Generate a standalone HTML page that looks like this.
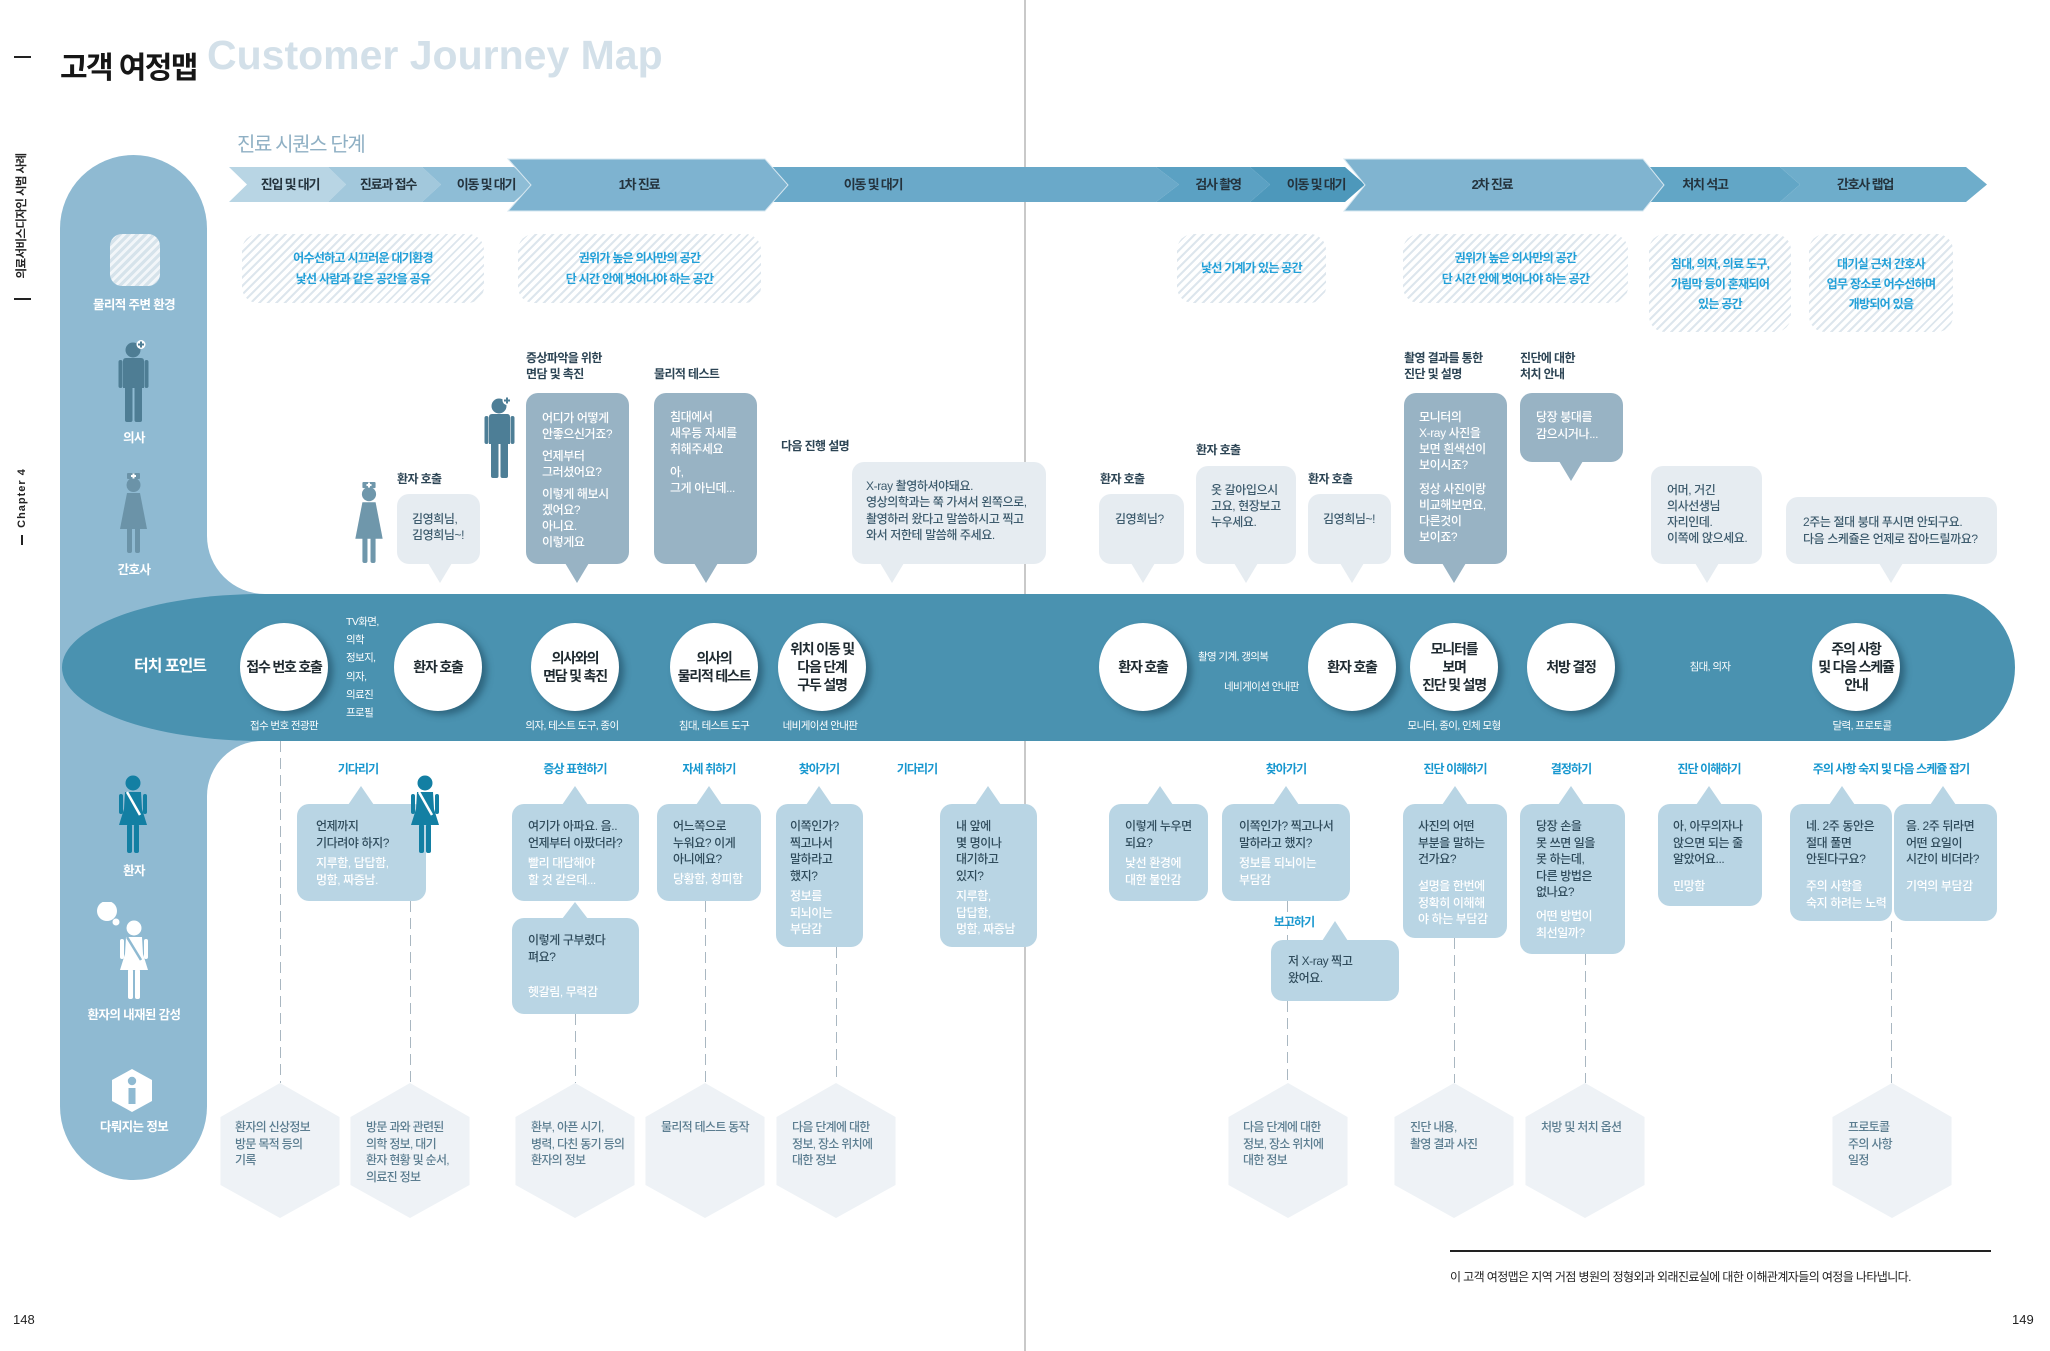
<!DOCTYPE html>
<html lang="ko"><head><meta charset="utf-8"><title>고객 여정맵</title>
<style>
*{box-sizing:border-box}
body{margin:0;width:2050px;height:1351px;position:relative;overflow:hidden;background:#fff;font-family:"Liberation Sans","Noto Sans CJK KR",sans-serif;}
.a{position:absolute}
.tx{position:absolute;white-space:nowrap;font-size:12px;letter-spacing:-0.4px;line-height:16.5px;font-weight:500}
.dk{color:#2f4b5b}
.wh{color:#fff}
.lt{color:#3d5b6d}
.lb{position:absolute;white-space:nowrap;font-size:12px;letter-spacing:-0.6px;line-height:16px;font-weight:bold;color:#2c4454}
.cat{position:absolute;width:260px;text-align:center;white-space:nowrap;font-size:12px;letter-spacing:-0.9px;line-height:16px;font-weight:bold;color:#1797cf;top:761px}
.hatch{position:absolute;border-radius:16px;background:repeating-linear-gradient(135deg,#dde6ed 0 2px,#fff 2px 6px);color:#22a0d8;font-weight:bold;font-size:12px;letter-spacing:-0.7px;text-align:center;white-space:nowrap}
.circ{position:absolute;top:623px;width:88px;height:88px;border-radius:50%;background:#fff;box-shadow:5px 4px 7px rgba(20,60,80,0.5);display:flex;align-items:center;justify-content:center;text-align:center;font-size:14px;font-weight:bold;letter-spacing:-1.2px;line-height:18px;color:#1f2a30}
.tp{position:absolute;white-space:nowrap;font-size:10.5px;letter-spacing:-0.6px;line-height:14px;color:#fff}
.tpc{position:absolute;width:200px;text-align:center;white-space:nowrap;font-size:10.5px;letter-spacing:-0.6px;line-height:14px;color:#fff;top:719px}
.pl{position:absolute;width:160px;left:54px;text-align:center;white-space:nowrap;font-size:12.5px;letter-spacing:-0.6px;line-height:16px;font-weight:bold;color:#fff}
.bar{position:absolute;width:200px;text-align:center;white-space:nowrap;font-size:13px;letter-spacing:-1.2px;line-height:16px;font-weight:bold;color:#24333d;top:177px}
.hx{position:absolute;white-space:nowrap;font-size:12px;letter-spacing:-0.7px;line-height:16.5px;color:#5b7d90;top:1119px;font-weight:500}
</style></head>
<body>

<!-- page divider -->
<div class="a" style="left:1024px;top:0;width:1.5px;height:1351px;background:#c9c9c9"></div>

<!-- left marks -->
<div class="a" style="left:14px;top:56px;width:17px;height:1.5px;background:#222"></div>
<div class="a" style="left:14px;top:298px;width:17px;height:1.5px;background:#222"></div>
<div class="a" style="left:21px;top:535px;width:1.5px;height:10px;background:#222"></div>
<div class="a" style="left:-49px;top:207px;width:142px;text-align:center;font-size:11.5px;font-weight:bold;letter-spacing:-0.6px;line-height:18px;color:#222;transform:rotate(-90deg);white-space:nowrap">의료서비스디자인 시범 사례</div>
<div class="a" style="left:-28px;top:489px;width:100px;text-align:center;font-size:11px;font-weight:bold;letter-spacing:1px;line-height:18px;color:#222;transform:rotate(-90deg);white-space:nowrap">Chapter 4</div>

<!-- titles -->
<div class="a" style="left:60px;top:50px;font-size:30px;font-weight:bold;letter-spacing:-1.6px;line-height:38px;color:#161616;white-space:nowrap">고객 여정맵</div>
<div class="a" style="left:207px;top:35px;font-size:41px;font-weight:bold;line-height:41px;color:#d3e0e9;white-space:nowrap">Customer Journey Map</div>
<div class="a" style="left:237px;top:133px;font-size:20px;letter-spacing:-1.4px;line-height:24px;color:#8fb0c4;white-space:nowrap">진료 시퀀스 단계</div>

<!-- left panel + band -->
<div class="a" style="left:60px;top:155px;width:147px;height:1025px;border-radius:73.5px;background:#8fbad2"></div>
<div class="a" style="left:200px;top:480px;width:90px;height:340px;background:#8fbad2"></div>
<div class="a" style="left:207px;top:380px;width:120px;height:214px;border-bottom-left-radius:58px;background:#fff"></div>
<div class="a" style="left:207px;top:741px;width:120px;height:150px;border-top-left-radius:55px;background:#fff"></div>
<div class="a" style="left:62px;top:594px;width:1953px;height:147px;background:#4a92b0;border-radius:200px 70px 70px 200px / 73.5px 73.5px 73.5px 73.5px"></div>

<!-- shapes layer -->
<svg class="a" style="left:0;top:0" width="2050" height="1351" viewBox="0 0 2050 1351">
  <polygon points="229,167 328,167 346,184.5 328,202 229,202 247,184.5" fill="#b8d5e4"/>
  <polygon points="328,167 422,167 441,184.5 422,202 328,202 346,184.5" fill="#a2c8dc"/>
  <polygon points="422,167 514,167 533,184.5 514,202 422,202 441,184.5" fill="#8ebdd6"/>
  <polygon points="765,167 1156,167 1179,184.5 1156,202 765,202 784,184.5" fill="#6aa9c9"/>
  <polygon points="1156,167 1250,167 1270,184.5 1250,202 1156,202 1179,184.5" fill="#5ba1c3"/>
  <polygon points="1250,167 1345,167 1365,184.5 1345,202 1250,202 1270,184.5" fill="#4d98bb"/>
  <polygon points="1643,167 1780,167 1800,184.5 1780,202 1643,202 1662,184.5" fill="#62a6c6"/>
  <polygon points="1780,167 1966,167 1987,184.5 1966,202 1780,202 1800,184.5" fill="#6eadcb"/>
  <polygon points="508,159 765,159 788,185 765,211 508,211 531,185" fill="#7eb3d0" stroke="#d6e7f0" stroke-width="1"/>
  <polygon points="1344,159 1643,159 1664,185 1643,211 1344,211 1365,185" fill="#80b4d0" stroke="#d6e7f0" stroke-width="1"/>

  <g stroke="#a9b7c1" stroke-width="1" stroke-dasharray="11 6" fill="none">
    <line x1="280.5" y1="741" x2="280.5" y2="1083"/>
    <line x1="410.5" y1="901" x2="410.5" y2="1083"/>
    <line x1="575.5" y1="1014" x2="575.5" y2="1083"/>
    <line x1="705.5" y1="901" x2="705.5" y2="1083"/>
    <line x1="836.5" y1="947" x2="836.5" y2="1083"/>
    <line x1="1287.5" y1="901" x2="1287.5" y2="940"/>
    <line x1="1287.5" y1="1001" x2="1287.5" y2="1083"/>
    <line x1="1454.5" y1="938" x2="1454.5" y2="1083"/>
    <line x1="1585.5" y1="954" x2="1585.5" y2="1083"/>
    <line x1="1891.5" y1="921" x2="1891.5" y2="1083"/>
  </g>

  <g fill="#eef2f6">
    <polygon points="280,1083 339.5,1117 339.5,1185 280,1218 220.5,1185 220.5,1117"/>
    <polygon points="410,1083 469.5,1117 469.5,1185 410,1218 350.5,1185 350.5,1117"/>
    <polygon points="575,1083 634.5,1117 634.5,1185 575,1218 515.5,1185 515.5,1117"/>
    <polygon points="705,1083 764.5,1117 764.5,1185 705,1218 645.5,1185 645.5,1117"/>
    <polygon points="836,1083 895.5,1117 895.5,1185 836,1218 776.5,1185 776.5,1117"/>
    <polygon points="1288,1083 1347.5,1117 1347.5,1185 1288,1218 1228.5,1185 1228.5,1117"/>
    <polygon points="1454,1083 1513.5,1117 1513.5,1185 1454,1218 1394.5,1185 1394.5,1117"/>
    <polygon points="1585,1083 1644.5,1117 1644.5,1185 1585,1218 1525.5,1185 1525.5,1117"/>
    <polygon points="1892,1083 1951.5,1117 1951.5,1185 1892,1218 1832.5,1185 1832.5,1117"/>
  </g>

  <g fill="#e6ecf1">
    <rect x="397" y="494" width="83" height="70" rx="12"/><polygon points="428,563 452,563 440,583"/>
    <rect x="852" y="462" width="194" height="102" rx="12"/><polygon points="880,563 904,563 892,583"/>
    <rect x="1099" y="494" width="85" height="70" rx="12"/><polygon points="1131,563 1155,563 1143,583"/>
    <rect x="1196" y="466" width="100" height="98" rx="12"/><polygon points="1234,563 1258,563 1246,583"/>
    <rect x="1308" y="494" width="83" height="70" rx="12"/><polygon points="1340,563 1364,563 1352,583"/>
    <rect x="1651" y="466" width="111" height="98" rx="12"/><polygon points="1695,563 1719,563 1707,583"/>
    <rect x="1786" y="497" width="211" height="67" rx="12"/><polygon points="1879,563 1903,563 1891,583"/>
  </g>
  <g fill="#98b3c4">
    <rect x="526" y="393" width="103" height="171" rx="12"/><polygon points="565,563 589,563 577,583"/>
    <rect x="654" y="393" width="103" height="171" rx="12"/><polygon points="694,563 718,563 706,583"/>
    <rect x="1404" y="393" width="103" height="171" rx="12"/><polygon points="1442,563 1466,563 1454,583"/>
    <rect x="1520" y="393" width="103" height="69" rx="12"/><polygon points="1559,461 1583,461 1571,481"/>
  </g>

  <g fill="#b9d5e4">
    <rect x="297" y="804" width="129" height="97" rx="12"/><polygon points="348,805 374,805 361,786"/>
    <rect x="512" y="804" width="127" height="97" rx="12"/><polygon points="562,805 588,805 575,786"/>
    <rect x="512" y="918" width="127" height="96" rx="12"/><polygon points="562,919 588,919 575,902"/>
    <rect x="657" y="804" width="104" height="97" rx="12"/><polygon points="696,805 722,805 709,786"/>
    <rect x="776" y="804" width="87" height="143" rx="12"/><polygon points="806,805 832,805 819,786"/>
    <rect x="940" y="804" width="97" height="143" rx="12"/><polygon points="975,805 1001,805 988,786"/>
    <rect x="1109" y="804" width="99" height="97" rx="12"/><polygon points="1147,805 1173,805 1160,786"/>
    <rect x="1222" y="804" width="128" height="97" rx="12"/><polygon points="1273,805 1299,805 1286,786"/>
    <rect x="1271" y="940" width="128" height="61" rx="12"/><polygon points="1322,941 1348,941 1335,921"/>
    <rect x="1403" y="804" width="104" height="134" rx="12"/><polygon points="1442,805 1468,805 1455,786"/>
    <rect x="1520" y="804" width="105" height="150" rx="12"/><polygon points="1558,805 1584,805 1571,786"/>
    <rect x="1658" y="804" width="104" height="102" rx="12"/><polygon points="1696,805 1722,805 1709,786"/>
    <rect x="1790" y="804" width="102" height="117" rx="12"/><polygon points="1829,805 1855,805 1842,786"/>
    <rect x="1894" y="804" width="103" height="117" rx="12"/><polygon points="1930,805 1956,805 1943,786"/>
  </g>

  <rect x="1450" y="1250" width="541" height="2" fill="#222"/>
</svg>

<!-- bar labels -->
<div class="bar" style="left:190px">진입 및 대기</div>
<div class="bar" style="left:288px">진료과 접수</div>
<div class="bar" style="left:386px">이동 및 대기</div>
<div class="bar" style="left:539px">1차 진료</div>
<div class="bar" style="left:773px">이동 및 대기</div>
<div class="bar" style="left:1118px">검사 촬영</div>
<div class="bar" style="left:1216px">이동 및 대기</div>
<div class="bar" style="left:1392px">2차 진료</div>
<div class="bar" style="left:1605px">처치 석고</div>
<div class="bar" style="left:1765px">간호사 랩업</div>

<!-- hatched cards -->
<div class="hatch" style="left:242px;top:234px;width:242px;height:69px;padding-top:14px;line-height:21px">어수선하고 시끄러운 대기환경<br>낯선 사람과 같은 공간을 공유</div>
<div class="hatch" style="left:518px;top:234px;width:243px;height:69px;padding-top:14px;line-height:21px">권위가 높은 의사만의 공간<br>단 시간 안에 벗어나야 하는 공간</div>
<div class="hatch" style="left:1177px;top:234px;width:149px;height:69px;padding-top:24px;line-height:21px">낯선 기계가 있는 공간</div>
<div class="hatch" style="left:1403px;top:234px;width:225px;height:69px;padding-top:14px;line-height:21px">권위가 높은 의사만의 공간<br>단 시간 안에 벗어나야 하는 공간</div>
<div class="hatch" style="left:1649px;top:234px;width:142px;height:98px;padding-top:20px;line-height:20px">침대, 의자, 의료 도구,<br>가림막 등이 혼재되어<br>있는 공간</div>
<div class="hatch" style="left:1809px;top:234px;width:144px;height:98px;padding-top:20px;line-height:20px">대기실 근처 간호사<br>업무 장소로 어수선하며<br>개방되어 있음</div>

<!-- panel icons -->
<div class="a" style="left:110px;top:234px;width:50px;height:52px;border-radius:12px;background:repeating-linear-gradient(135deg,#d6e3eb 0 3px,#f2f6f9 3px 6px)"></div>
<div class="pl" style="top:297px">물리적 주변 환경</div>

<svg class="a" style="left:118px;top:340px" width="32" height="82" viewBox="0 0 32 82">
 <g fill="#4e7d94"><circle cx="15" cy="10" r="7.5"/><path d="M5 21 Q5 18 8 18 L23 18 Q26 18 26 21 L26 48 L5 48 Z"/><rect x="0.5" y="20" width="4" height="28" rx="2"/><rect x="26.5" y="20" width="4" height="28" rx="2"/><rect x="7" y="46" width="7.5" height="36" rx="2"/><rect x="16.5" y="46" width="7.5" height="36" rx="2"/></g>
 <circle cx="23" cy="4.5" r="4.5" fill="#fff"/><rect x="22" y="1.5" width="2" height="6" fill="#4e7d94"/><rect x="20" y="3.5" width="6" height="2" fill="#4e7d94"/>
</svg>
<div class="pl" style="top:430px">의사</div>

<svg class="a" style="left:118px;top:473px" width="32" height="80" viewBox="0 0 32 80">
 <g fill="#6b93a8"><rect x="9" y="0" width="13" height="6" rx="1"/><circle cx="15.5" cy="12" r="7"/><path d="M9 20 L22 20 L29 56 L2 56 Z"/><rect x="9" y="54" width="5" height="26" rx="2"/><rect x="17" y="54" width="5" height="26" rx="2"/></g>
 <rect x="14.5" y="0.5" width="2" height="5" fill="#fff"/><rect x="13" y="2" width="5" height="2" fill="#fff"/>
</svg>
<div class="pl" style="top:562px">간호사</div>

<svg class="a" style="left:116px;top:775px" width="34" height="78" viewBox="0 0 34 78">
 <g fill="#137fa3"><circle cx="17" cy="8" r="7.5"/><path d="M9 17 L25 17 L26 34 L31 50 L3 50 L8 34 Z"/><rect x="3" y="19" width="4" height="20" rx="2"/><rect x="27" y="19" width="4" height="20" rx="2"/><rect x="11" y="49" width="5" height="29" rx="2"/><rect x="18" y="49" width="5" height="29" rx="2"/></g>
 <line x1="11" y1="17" x2="24" y2="40" stroke="#fff" stroke-width="2.5"/>
</svg>
<div class="pl" style="top:863px">환자</div>

<svg class="a" style="left:94px;top:902px" width="58" height="97" viewBox="0 0 58 97">
 <g fill="#fff"><circle cx="13" cy="9" r="10"/><circle cx="22" cy="20" r="3.5"/><circle cx="40" cy="26" r="7.5"/><path d="M32 35 L48 35 L49 52 L54 68 L26 68 L31 52 Z"/><rect x="26" y="37" width="4" height="20" rx="2"/><rect x="50" y="37" width="4" height="20" rx="2"/><rect x="34" y="67" width="5" height="30" rx="2"/><rect x="41" y="67" width="5" height="30" rx="2"/></g>
 <line x1="33" y1="35" x2="47" y2="58" stroke="#8fbad2" stroke-width="2.5"/>
</svg>
<div class="pl" style="top:1007px">환자의 내재된 감성</div>

<svg class="a" style="left:112px;top:1069px" width="40" height="43" viewBox="0 0 40 43">
 <polygon points="20,0 40,11 40,32 20,43 0,32 0,11" fill="#fff"/>
 <circle cx="20" cy="12" r="4.2" fill="#8fbad2"/><rect x="16.5" y="19" width="7" height="16" fill="#8fbad2"/>
</svg>
<div class="pl" style="top:1119px">다뤄지는 정보</div>

<!-- staff figures -->
<svg class="a" style="left:353px;top:482px" width="33" height="81" viewBox="0 0 32 80">
 <g fill="#6f97ab"><rect x="9" y="0" width="13" height="6" rx="1"/><circle cx="15.5" cy="12" r="7"/><path d="M9 20 L22 20 L29 56 L2 56 Z"/><rect x="9" y="54" width="5" height="26" rx="2"/><rect x="17" y="54" width="5" height="26" rx="2"/></g>
 <rect x="14.5" y="0.5" width="2" height="5" fill="#fff"/><rect x="13" y="2" width="5" height="2" fill="#fff"/>
</svg>
<svg class="a" style="left:484px;top:396px" width="32" height="82" viewBox="0 0 32 82">
 <g fill="#4d7e96"><circle cx="15" cy="10" r="7.5"/><path d="M5 21 Q5 18 8 18 L23 18 Q26 18 26 21 L26 48 L5 48 Z"/><rect x="0.5" y="20" width="4" height="28" rx="2"/><rect x="26.5" y="20" width="4" height="28" rx="2"/><rect x="7" y="46" width="7.5" height="36" rx="2"/><rect x="16.5" y="46" width="7.5" height="36" rx="2"/></g>
 <circle cx="23" cy="4.5" r="4.5" fill="#fff"/><rect x="22" y="1.5" width="2" height="6" fill="#4d7e96"/><rect x="20" y="3.5" width="6" height="2" fill="#4d7e96"/>
</svg>

<!-- staff labels -->
<div class="lb" style="left:397px;top:471px">환자 호출</div>
<div class="lb" style="left:526px;top:350px">증상파악을 위한<br>면담 및 촉진</div>
<div class="lb" style="left:654px;top:366px">물리적 테스트</div>
<div class="lb" style="left:781px;top:438px">다음 진행 설명</div>
<div class="lb" style="left:1100px;top:471px">환자 호출</div>
<div class="lb" style="left:1196px;top:442px">환자 호출</div>
<div class="lb" style="left:1308px;top:471px">환자 호출</div>
<div class="lb" style="left:1404px;top:350px">촬영 결과를 통한<br>진단 및 설명</div>
<div class="lb" style="left:1520px;top:350px">진단에 대한<br>처치 안내</div>

<!-- staff bubble texts -->
<div class="tx lt" style="left:412px;top:511px;line-height:16px">김영희님,<br>김영희님~!</div>
<div class="tx wh" style="left:542px;top:410px;line-height:16px">어디가 어떻게<br>안좋으신거죠?</div>
<div class="tx wh" style="left:542px;top:448px;line-height:16px">언제부터<br>그러셨어요?</div>
<div class="tx wh" style="left:542px;top:486px;line-height:16px">이렇게 해보시<br>겠어요?<br>아니요.<br>이렇게요</div>
<div class="tx wh" style="left:670px;top:409px;line-height:16px">침대에서<br>새우등 자세를<br>취해주세요</div>
<div class="tx wh" style="left:670px;top:464px;line-height:16px">아,<br>그게 아닌데...</div>
<div class="tx lt" style="left:866px;top:478px;line-height:16.3px">X-ray 촬영하셔야돼요.<br>영상의학과는 쭉 가셔서 왼쪽으로,<br>촬영하러 왔다고 말씀하시고 찍고<br>와서 저한테 말씀해 주세요.</div>
<div class="tx lt" style="left:1115px;top:511px">김영희님?</div>
<div class="tx lt" style="left:1211px;top:482px;line-height:16px">옷 갈아입으시<br>고요, 현장보고<br>누우세요.</div>
<div class="tx lt" style="left:1323px;top:511px">김영희님~!</div>
<div class="tx wh" style="left:1419px;top:409px;line-height:16px">모니터의<br>X-ray 사진을<br>보면 흰색선이<br>보이시죠?</div>
<div class="tx wh" style="left:1419px;top:481px;line-height:16px">정상 사진이랑<br>비교해보면요,<br>다른것이<br>보이죠?</div>
<div class="tx wh" style="left:1536px;top:409px;line-height:17px">당장 붕대를<br>감으시거나...</div>
<div class="tx lt" style="left:1667px;top:482px;line-height:16px">어머, 거긴<br>의사선생님<br>자리인데.<br>이쪽에 앉으세요.</div>
<div class="tx lt" style="left:1803px;top:514px;line-height:17px">2주는 절대 붕대 푸시면 안되구요.<br>다음 스케쥴은 언제로 잡아드릴까요?</div>

<!-- touch points -->
<div class="a" style="left:130px;top:656px;width:80px;text-align:center;font-size:16px;font-weight:bold;letter-spacing:-1px;line-height:22px;color:#fff;white-space:nowrap">터치 포인트</div>
<div class="circ" style="left:240px">접수 번호 호출</div>
<div class="circ" style="left:394px">환자 호출</div>
<div class="circ" style="left:531px">의사와의<br>면담 및 촉진</div>
<div class="circ" style="left:670px">의사의<br>물리적 테스트</div>
<div class="circ" style="left:778px">위치 이동 및<br>다음 단계<br>구두 설명</div>
<div class="circ" style="left:1099px">환자 호출</div>
<div class="circ" style="left:1308px">환자 호출</div>
<div class="circ" style="left:1410px">모니터를<br>보며<br>진단 및 설명</div>
<div class="circ" style="left:1527px">처방 결정</div>
<div class="circ" style="left:1812px">주의 사항<br>및 다음 스케쥴<br>안내</div>

<div class="tp" style="left:346px;top:613px;line-height:18.2px">TV화면,<br>의학<br>정보지,<br>의자,<br>의료진<br>프로필</div>
<div class="tpc" style="left:184px">접수 번호 전광판</div>
<div class="tpc" style="left:472px">의자, 테스트 도구, 종이</div>
<div class="tpc" style="left:614px">침대, 테스트 도구</div>
<div class="tpc" style="left:720px">네비게이션 안내판</div>
<div class="tp" style="left:1198px;top:650px">촬영 기계, 갱의복</div>
<div class="tp" style="left:1224px;top:680px">네비게이션 안내판</div>
<div class="tpc" style="left:1610px;top:660px">침대, 의자</div>
<div class="tpc" style="left:1354px">모니터, 종이, 인체 모형</div>
<div class="tpc" style="left:1762px">달력, 프로토콜</div>

<!-- category labels -->
<div class="cat" style="left:228px">기다리기</div>
<div class="cat" style="left:445px">증상 표현하기</div>
<div class="cat" style="left:579px">자세 취하기</div>
<div class="cat" style="left:689px">찾아가기</div>
<div class="cat" style="left:787px">기다리기</div>
<div class="cat" style="left:1156px">찾아가기</div>
<div class="cat" style="left:1325px">진단 이해하기</div>
<div class="cat" style="left:1441px">결정하기</div>
<div class="cat" style="left:1579px">진단 이해하기</div>
<div class="cat" style="left:1761px">주의 사항 숙지 및 다음 스케쥴 잡기</div>
<div class="cat" style="left:1164px;top:914px">보고하기</div>

<!-- patient figure overlapping bubble -->
<svg class="a" style="left:408px;top:775px" width="34" height="78" viewBox="0 0 34 78">
 <g fill="#137fa3"><circle cx="17" cy="8" r="7.5"/><path d="M9 17 L25 17 L26 34 L31 50 L3 50 L8 34 Z"/><rect x="3" y="19" width="4" height="20" rx="2"/><rect x="27" y="19" width="4" height="20" rx="2"/><rect x="11" y="49" width="5" height="29" rx="2"/><rect x="18" y="49" width="5" height="29" rx="2"/></g>
 <line x1="11" y1="17" x2="24" y2="40" stroke="#fff" stroke-width="2.5"/>
</svg>

<!-- patient bubble texts -->
<div class="tx dk" style="left:316px;top:818px">언제까지<br>기다려야 하지?</div>
<div class="tx wh" style="left:316px;top:855px">지루함, 답답함,<br>멍함, 짜증남.</div>
<div class="tx dk" style="left:528px;top:818px">여기가 아파요. 음..<br>언제부터 아팠더라?</div>
<div class="tx wh" style="left:528px;top:855px">빨리 대답해야<br>할 것 같은데...</div>
<div class="tx dk" style="left:528px;top:932px">이렇게 구부렸다<br>펴요?</div>
<div class="tx wh" style="left:528px;top:984px">헷갈림, 무력감</div>
<div class="tx dk" style="left:673px;top:818px">어느쪽으로<br>누워요? 이게<br>아니에요?</div>
<div class="tx wh" style="left:673px;top:871px">당황함, 창피함</div>
<div class="tx dk" style="left:790px;top:818px">이쪽인가?<br>찍고나서<br>말하라고<br>했지?</div>
<div class="tx wh" style="left:790px;top:888px">정보를<br>되뇌이는<br>부담감</div>
<div class="tx dk" style="left:956px;top:818px">내 앞에<br>몇 명이나<br>대기하고<br>있지?</div>
<div class="tx wh" style="left:956px;top:888px">지루함,<br>답답함,<br>멍함, 짜증남</div>
<div class="tx dk" style="left:1125px;top:818px">이렇게 누우면<br>되요?</div>
<div class="tx wh" style="left:1125px;top:855px">낯선 환경에<br>대한 불안감</div>
<div class="tx dk" style="left:1239px;top:818px">이쪽인가? 찍고나서<br>말하라고 했지?</div>
<div class="tx wh" style="left:1239px;top:855px">정보를 되뇌이는<br>부담감</div>
<div class="tx dk" style="left:1288px;top:953px">저 X-ray 찍고<br>왔어요.</div>
<div class="tx dk" style="left:1418px;top:818px">사진의 어떤<br>부분을 말하는<br>건가요?</div>
<div class="tx wh" style="left:1418px;top:878px">설명을 한번에<br>정확히 이해해<br>야 하는 부담감</div>
<div class="tx dk" style="left:1536px;top:818px">당장 손을<br>못 쓰면 일을<br>못 하는데,<br>다른 방법은<br>없나요?</div>
<div class="tx wh" style="left:1536px;top:908px">어떤 방법이<br>최선일까?</div>
<div class="tx dk" style="left:1673px;top:818px">아, 아무의자나<br>앉으면 되는 줄<br>알았어요...</div>
<div class="tx wh" style="left:1673px;top:878px">민망함</div>
<div class="tx dk" style="left:1806px;top:818px">네. 2주 동안은<br>절대 풀면<br>안된다구요?</div>
<div class="tx wh" style="left:1806px;top:878px">주의 사항을<br>숙지 하려는 노력</div>
<div class="tx dk" style="left:1906px;top:818px">음. 2주 뒤라면<br>어떤 요일이<br>시간이 비더라?</div>
<div class="tx wh" style="left:1906px;top:878px">기억의 부담감</div>

<!-- hexagon texts -->
<div class="hx" style="left:235px">환자의 신상정보<br>방문 목적 등의<br>기록</div>
<div class="hx" style="left:366px">방문 과와 관련된<br>의학 정보, 대기<br>환자 현황 및 순서,<br>의료진 정보</div>
<div class="hx" style="left:531px">환부, 아픈 시기,<br>병력, 다친 동기 등의<br>환자의 정보</div>
<div class="hx" style="left:661px">물리적 테스트 동작</div>
<div class="hx" style="left:792px">다음 단계에 대한<br>정보, 장소 위치에<br>대한 정보</div>
<div class="hx" style="left:1243px">다음 단계에 대한<br>정보, 장소 위치에<br>대한 정보</div>
<div class="hx" style="left:1410px">진단 내용,<br>촬영 결과 사진</div>
<div class="hx" style="left:1541px">처방 및 처치 옵션</div>
<div class="hx" style="left:1848px">프로토콜<br>주의 사항<br>일정</div>

<!-- caption & page numbers -->
<div class="a" style="left:1450px;top:1268px;font-size:12px;letter-spacing:-0.6px;line-height:18px;color:#222;white-space:nowrap">이 고객 여정맵은 지역 거점 병원의 정형외과 외래진료실에 대한 이해관계자들의 여정을 나타냅니다.</div>
<div class="a" style="left:13px;top:1311px;font-size:13px;line-height:18px;color:#222">148</div>
<div class="a" style="left:2012px;top:1311px;font-size:13px;line-height:18px;color:#222">149</div>

</body></html>
